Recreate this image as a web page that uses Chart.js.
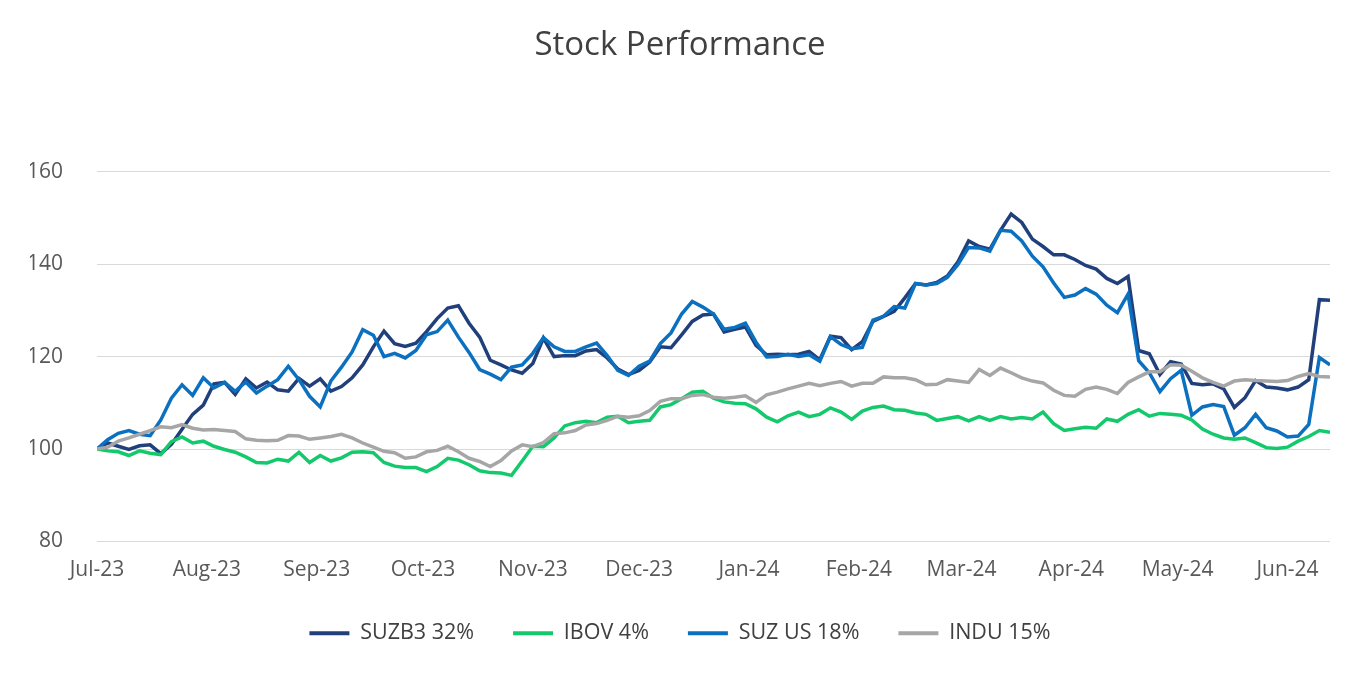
<!DOCTYPE html>
<html>
<head>
<meta charset="utf-8">
<script src="https://cdn.jsdelivr.net/npm/chart.js@4.4.1/dist/chart.umd.min.js"></script>
<style>
  html, body { margin: 0; padding: 0; background: #fff; }
  #wrap { width: 1360px; height: 680px; }
</style>
</head>
<body>
<div id="wrap"><canvas id="chart" width="1360" height="680"></canvas></div>
<script>
// one reading every 3 calendar days, starting 1 Jul 2023 (day 0)
const stepDays = 3;

const monthDays = [0, 31, 62, 92, 123, 153, 184, 215, 244, 275, 305, 336];
const monthLabels = ['Jul-23', 'Aug-23', 'Sep-23', 'Oct-23', 'Nov-23', 'Dec-23',
  'Jan-24', 'Feb-24', 'Mar-24', 'Apr-24', 'May-24', 'Jun-24'];

const seriesNames = ['SUZB3 32%', 'IBOV 4%', 'SUZ US 18%', 'INDU 15%'];

const suzb3 = [
  100, 101.3, 100.6, 99.9, 100.7, 100.9, 99, 101, 104.3, 107.5,
  109.5, 114.1, 114.4, 111.8, 115.2, 113.2, 114.5, 112.8, 112.5, 115.3,
  113.6, 115.2, 112.5, 113.5, 115.4, 118.2, 122.1, 125.5, 122.8, 122.2,
  122.9, 125.4, 128.2, 130.5, 131, 127.2, 124.2, 119.2, 118.2, 117.1,
  116.4, 118.5, 124, 120, 120.2, 120.2, 121.2, 121.5, 119.7, 117.3,
  116.1, 117, 118.8, 122.1, 121.9, 124.7, 127.6, 129, 129.2, 125.3,
  125.9, 126.4, 122.4, 120.4, 120.5, 120.4, 120.5, 121.1, 119.3, 124.4,
  124.1, 121.5, 123.2, 127.6, 128.7, 129.8, 132.7, 135.8, 135.5, 136,
  137.4, 140.5, 145, 143.8, 143.2, 147.3, 150.8, 149, 145.4, 143.8,
  142, 142, 141, 139.7, 138.9, 136.9, 135.8, 137.3, 121.3, 120.6,
  116.1, 118.9, 118.4, 114.2, 113.9, 114.1, 113, 109, 111.1, 114.8,
  113.4, 113.2, 112.8, 113.4, 115, 132.3, 132.2
];

const ibov = [
  100, 99.6, 99.4, 98.6, 99.6, 99.1, 98.8, 101.6, 102.6, 101.3,
  101.7, 100.6, 99.9, 99.3, 98.3, 97.1, 97, 97.8, 97.4, 99.3,
  97.1, 98.6, 97.4, 98.1, 99.3, 99.4, 99.2, 97.1, 96.3, 96,
  96, 95.1, 96.2, 98, 97.6, 96.6, 95.3, 94.9, 94.8, 94.3,
  97.4, 100.6, 100.5, 102.4, 105, 105.7, 106, 105.7, 106.9, 107.1,
  105.7, 106, 106.2, 109.1, 109.6, 110.9, 112.3, 112.5, 111, 110.2,
  109.9, 109.8, 108.7, 106.9, 105.9, 107.2, 108, 107, 107.5, 108.9,
  108, 106.4, 108.2, 109, 109.3, 108.5, 108.4, 107.8, 107.5, 106.2,
  106.6, 107, 106.1, 107, 106.2, 107, 106.5, 106.8, 106.5, 108,
  105.5, 104, 104.4, 104.7, 104.5, 106.5, 106, 107.5, 108.5, 107.1,
  107.7, 107.5, 107.3, 106.3, 104.3, 103.2, 102.4, 102.1, 102.4, 101.4,
  100.3, 100.1, 100.4, 101.7, 102.7, 104, 103.6
];

const suzUs = [
  100, 102, 103.4, 104, 103.2, 102.9, 106.3, 111, 113.9, 111.6,
  115.4, 113.2, 114.4, 112.5, 114.5, 112.1, 113.6, 115, 117.9, 115,
  111.4, 109.1, 114.7, 117.7, 121, 125.8, 124.6, 120, 120.7, 119.7,
  121.3, 124.7, 125.4, 127.9, 124.2, 120.9, 117.2, 116.2, 115, 117.7,
  118.2, 120.7, 124.1, 122.1, 121.1, 121.1, 122.1, 122.9, 120.2, 117,
  115.9, 117.9, 119, 122.8, 125.1, 129.2, 131.9, 130.7, 129.2, 125.9,
  126.3, 127.2, 123.1, 119.9, 120, 120.5, 120, 120.4, 119, 124.3,
  122.6, 121.7, 122, 127.9, 128.7, 130.8, 130.5, 135.8, 135.5, 135.8,
  137.1, 139.9, 143.6, 143.5, 142.8, 147.3, 147.1, 145, 141.7, 139.4,
  135.9, 132.8, 133.3, 134.7, 133.5, 131.1, 129.5, 133.5, 119.1, 116.5,
  112.4, 115.2, 117, 107.3, 109.1, 109.6, 109.2, 103, 104.6, 107.5,
  104.6, 103.9, 102.6, 102.8, 105.3, 119.8, 118.2
];

const indu = [
  100, 100.4, 101.7, 102.4, 103.2, 104, 104.8, 104.6, 105.3, 104.5,
  104.1, 104.2, 104, 103.8, 102.2, 101.9, 101.8, 101.9, 102.9, 102.8,
  102.1, 102.4, 102.7, 103.2, 102.4, 101.3, 100.4, 99.5, 99.2, 98,
  98.3, 99.4, 99.7, 100.6, 99.4, 98, 97.3, 96.2, 97.5, 99.6,
  100.9, 100.5, 101.4, 103.3, 103.5, 104, 105.2, 105.5, 106.2, 107.1,
  106.9, 107.2, 108.3, 110.3, 110.9, 110.9, 111.6, 111.8, 111.2, 111,
  111.2, 111.5, 110.1, 111.7, 112.3, 113, 113.6, 114.2, 113.7, 114.2,
  114.6, 113.6, 114.2, 114.2, 115.6, 115.4, 115.4, 115, 113.9, 114,
  115, 114.7, 114.4, 117.2, 115.9, 117.5, 116.5, 115.4, 114.7, 114.3,
  112.7, 111.6, 111.4, 112.9, 113.4, 112.9, 112, 114.4, 115.6, 116.7,
  116.7, 118.2, 118.1, 116.8, 115.4, 114.4, 113.6, 114.7, 115, 114.8,
  114.7, 114.6, 114.8, 115.7, 116.3, 115.7, 115.6
];

const colors = ['#203f7b', '#14c96b', '#0b70bf', '#a6a6a6'];

function toPoints(values) {
  return values.map((v, i) => ({ x: i * stepDays, y: v }));
}

const seriesValues = [suzb3, ibov, suzUs, indu];
const datasets = seriesValues.map((vals, k) => ({
  label: seriesNames[k],
  data: toPoints(vals),
  borderColor: colors[k],
  backgroundColor: colors[k],
  borderWidth: 3.5,
  pointRadius: 0,
  tension: 0,
  order: 4 - k   // later series drawn on top, as in the source
}));

const lastDay = (suzb3.length - 1) * stepDays;
const baseFont = "'Open Sans', 'Noto Sans', sans-serif";

new Chart(document.getElementById('chart'), {
  type: 'line',
  data: { datasets },
  options: {
    responsive: false,
    animation: false,
    devicePixelRatio: 1,
    layout: { padding: { left: 30, right: 30, top: 0, bottom: 26 } },
    plugins: {
      title: {
        display: true,
        text: 'Stock Performance',
        color: '#404040',
        font: { family: baseFont, size: 33, weight: '500' },
        padding: { top: 26, bottom: 106 }
      },
      legend: {
        position: 'bottom',
        labels: {
          color: '#404040',
          font: { family: baseFont, size: 21.5 },
          boxWidth: 40,
          boxHeight: 4,
          padding: 39,
          sort: (a, b) => a.datasetIndex - b.datasetIndex,
          generateLabels: (chart) =>
            Chart.defaults.plugins.legend.labels.generateLabels(chart)
              .map(item => Object.assign(item, { lineWidth: 0 }))
        }
      },
      tooltip: { enabled: false }
    },
    scales: {
      x: {
        type: 'linear',
        min: 0,
        max: lastDay,
        grid: { display: false, drawTicks: false },
        border: { display: false },
        afterBuildTicks: (scale) => {
          scale.ticks = monthDays.map(v => ({ value: v }));
        },
        afterFit: (scale) => { scale.height = 42; },
        ticks: {
          autoSkip: false,
          maxRotation: 0,
          padding: 16,
          color: '#595959',
          font: { family: baseFont, size: 21 },
          callback: (value) => monthLabels[monthDays.indexOf(value)]
        }
      },
      y: {
        min: 80,
        max: 160,
        grid: { color: '#d9d9d9', lineWidth: 1, drawTicks: false },
        border: { display: false },
        afterFit: (scale) => { scale.width = 67; },
        ticks: {
          stepSize: 20,
          padding: 34,
          color: '#595959',
          font: { family: baseFont, size: 21 }
        }
      }
    }
  }
});
</script>
</body>
</html>
